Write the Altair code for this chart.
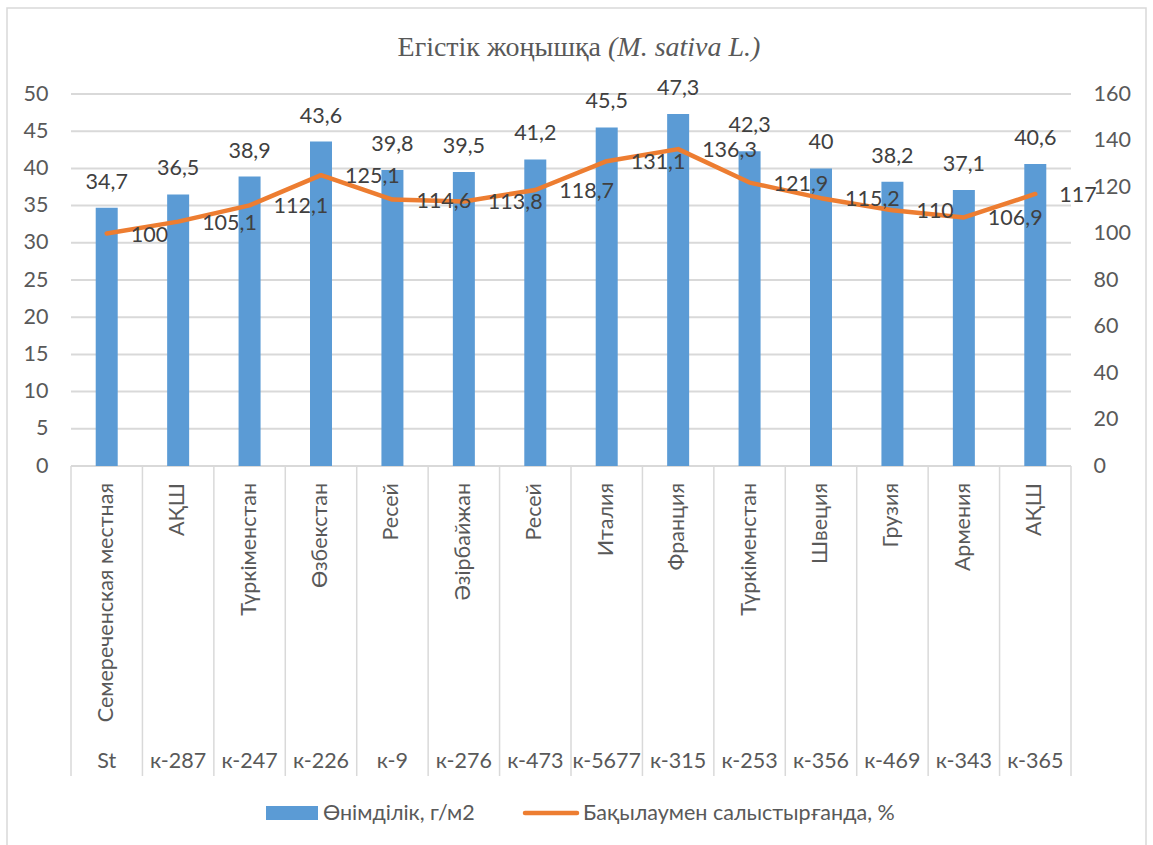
import altair as alt
import pandas as pd

# --- data -------------------------------------------------------------
codes = ["St", "к-287", "к-247", "к-226", "к-9", "к-276", "к-473",
         "к-5677", "к-315", "к-253", "к-356", "к-469", "к-343", "к-365"]
names = ["Семереченская местная", "АҚШ", "Түркіменстан", "Өзбекстан", "Ресей",
         "Әзірбайжан", "Ресей", "Италия", "Франция", "Түркіменстан", "Швеция",
         "Грузия", "Армения", "АҚШ"]
yield_vals = [34.7, 36.5, 38.9, 43.6, 39.8, 39.5, 41.2, 45.5, 47.3, 42.3,
              40, 38.2, 37.1, 40.6]
pct_vals = [100, 105.1, 112.1, 125.1, 114.6, 113.8, 118.7, 131.1, 136.3,
            121.9, 115.2, 110, 106.9, 117]
left_ticks = list(range(0, 51, 5))
right_ticks = list(range(0, 161, 20))

bar_name = "Өнімділік, г/м2"
line_name = "Бақылаумен салыстырғанда, %"


def fmt(v):
    return f"{v:g}".replace(".", ",")


df = pd.DataFrame({
    "code": codes,
    "name": names,
    "yld": yield_vals,
    "pct": pct_vals,
    "yld_lbl": [fmt(v) for v in yield_vals],
    "pct_lbl": [fmt(v) for v in pct_vals],
})
grid_df = pd.DataFrame({"gv": left_ticks})
one = pd.DataFrame({"k": [0]})

# --- styling ----------------------------------------------------------
W, H = 1000, 372
BLUE = "#5B9BD5"
ORANGE = "#ED7D31"
GRID = "#D9D9D9"
AXIS_TXT = "#595959"
LBL_TXT = "#404040"
FONT = "Lato"
FS = 21.5

xscale = alt.Scale(domain=codes, paddingInner=0, paddingOuter=0)
X = alt.X("code:N", scale=xscale, axis=None, sort=codes)

# --- horizontal gridlines (own scale with the left-axis domain) ------------
gridlines = alt.Chart(grid_df).mark_rule(
    color=GRID, strokeWidth=2, strokeOpacity=1
).encode(
    y=alt.Y("gv:Q", scale=alt.Scale(domain=[0, 50], nice=False), axis=None),
    x=alt.value(0), x2=alt.value(W))

# --- bars (left axis) ---------------------------------------------------
ybar = alt.Y("yld:Q",
             scale=alt.Scale(domain=[0, 50], nice=False, zero=True),
             axis=alt.Axis(values=left_ticks, orient="left", title=None,
                           domain=False, ticks=False, labelPadding=23,
                           labelOverlap=False, labelFontSize=FS,
                           labelFont=FONT, labelColor=AXIS_TXT, grid=False))
bar_base = alt.Chart(df).encode(x=X, y=ybar)
bars = bar_base.mark_bar(color=BLUE, size=22)
bar_labels = bar_base.mark_text(
    baseline="alphabetic", dy=-19, fontSize=FS, font=FONT, color=LBL_TXT
).encode(text="yld_lbl:N")
bar_layer = alt.layer(bars, bar_labels)

# --- line (right axis) --------------------------------------------------
yline = alt.Y("pct:Q",
              scale=alt.Scale(domain=[0, 160], nice=False, zero=True),
              axis=alt.Axis(values=right_ticks, orient="right", title=None,
                            domain=False, ticks=False, labelPadding=22,
                            labelOverlap=False, labelFontSize=FS,
                            labelFont=FONT, labelColor=AXIS_TXT, grid=False))
line_base = alt.Chart(df).encode(x=X, y=yline)
line = line_base.mark_line(
    color=ORANGE, strokeWidth=4.5, strokeJoin="round", strokeCap="round")
line_labels = line_base.mark_text(
    align="left", baseline="alphabetic", dx=24, dy=8,
    fontSize=FS, font=FONT, color=LBL_TXT
).encode(text="pct_lbl:N")
line_layer = alt.layer(line, line_labels)

# --- category axis: separators, names and codes ----------------------------
sep = alt.Chart(df).mark_rule(color=GRID, strokeWidth=1.5).encode(
    x=alt.X("code:N", scale=xscale, axis=None, sort=codes, bandPosition=0),
    y=alt.value(H), y2=alt.value(682))
sep_end = alt.Chart(df.tail(1)).mark_rule(color=GRID, strokeWidth=1.5).encode(
    x=alt.X("code:N", scale=xscale, axis=None, sort=codes, bandPosition=1),
    y=alt.value(H), y2=alt.value(682))
cat_names = alt.Chart(df).mark_text(
    angle=270, align="right", baseline="middle",
    fontSize=FS, font=FONT, color=AXIS_TXT
).encode(x=X, y=alt.value(389), text="name:N")
cat_codes = alt.Chart(df).mark_text(
    align="center", baseline="alphabetic",
    fontSize=FS, font=FONT, color=AXIS_TXT
).encode(x=X, y=alt.value(674), text="code:N")

# --- title (regular + italic parts) -------------------------------------
title_a = alt.Chart(one).mark_text(
    align="right", baseline="alphabetic", fontSize=28,
    font="Liberation Serif", color=AXIS_TXT
).encode(x=alt.value(530), y=alt.value(-38), text=alt.value("Егістік жоңышқа"))
title_b = alt.Chart(one).mark_text(
    align="left", baseline="alphabetic", fontSize=28,
    font="Liberation Serif", fontStyle="italic", color=AXIS_TXT
).encode(x=alt.value(537), y=alt.value(-38), text=alt.value("(M. sativa L.)"))

# --- legend ---------------------------------------------------------------
leg_rect = alt.Chart(one).mark_rect(color=BLUE).encode(
    x=alt.value(195), x2=alt.value(247), y=alt.value(712), y2=alt.value(726))
leg_txt1 = alt.Chart(one).mark_text(
    align="left", baseline="alphabetic", fontSize=FS, font=FONT, color=AXIS_TXT
).encode(x=alt.value(252), y=alt.value(726), text=alt.value(bar_name))
leg_line = alt.Chart(one).mark_rule(
    color=ORANGE, strokeWidth=4.5, strokeCap="round").encode(
    x=alt.value(454), x2=alt.value(506), y=alt.value(719))
leg_txt2 = alt.Chart(one).mark_text(
    align="left", baseline="alphabetic", fontSize=FS, font=FONT, color=AXIS_TXT
).encode(x=alt.value(512), y=alt.value(726), text=alt.value(line_name))

# --- outer frame ----------------------------------------------------------
frame = alt.Chart(one).mark_rect(
    fillOpacity=0, stroke=GRID, strokeWidth=1.5).encode(
    x=alt.value(-64), x2=alt.value(1075), y=alt.value(-86), y2=alt.value(760))

chart = alt.layer(
    frame, gridlines, sep, sep_end, bar_layer, line_layer, cat_names,
    cat_codes, title_a, title_b, leg_rect, leg_txt1, leg_line, leg_txt2
).resolve_scale(y="independent").properties(
    width=W, height=H,
    autosize=alt.AutoSizeParams(type="none"),
    padding={"left": 71, "top": 94, "right": 82, "bottom": 379},
    background="white",
).configure_view(stroke=None)

chart.save("out.html", embed_options={"renderer": "svg", "actions": False})
